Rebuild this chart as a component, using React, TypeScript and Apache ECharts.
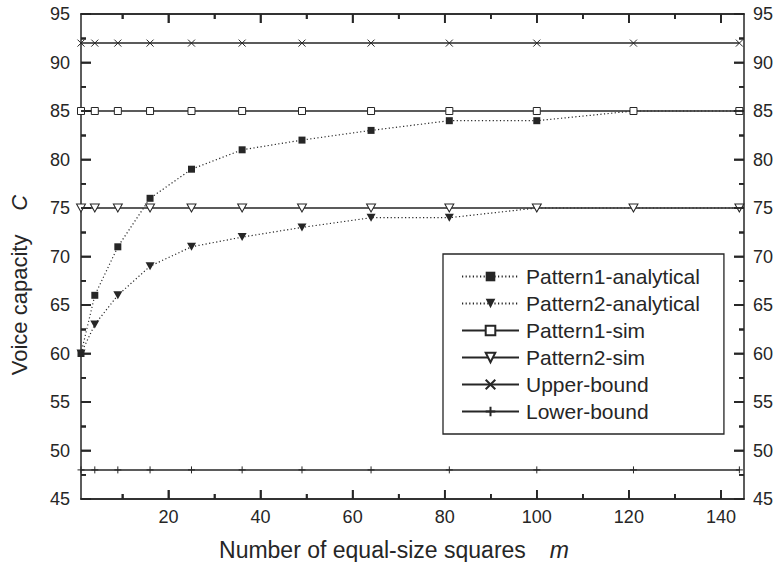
import React, { useEffect, useRef } from "react";
import * as echarts from "echarts";

// Number of equal-size squares m (perfect squares)
const squares = [1, 4, 9, 16, 25, 36, 49, 64, 81, 100, 121, 144];

// Voice capacity C for each configuration
const pattern1Analytical = [60, 66, 71, 76, 79, 81, 82, 83, 84, 84, 85, 85];
const pattern2Analytical = [60, 63, 66, 69, 71, 72, 73, 74, 74, 75, 75, 75];
const pattern1Sim = [85, 85, 85, 85, 85, 85, 85, 85, 85, 85, 85, 85];
const pattern2Sim = [75, 75, 75, 75, 75, 75, 75, 75, 75, 75, 75, 75];
const upperBound = [92, 92, 92, 92, 92, 92, 92, 92, 92, 92, 92, 92];
const lowerBound = [48, 48, 48, 48, 48, 48, 48, 48, 48, 48, 48, 48];

// Axis ranges and tick values
const X_MIN = 1;
const X_MAX = 145;
const Y_MIN = 45;
const Y_MAX = 95;
const xMajorTicks = [20, 40, 60, 80, 100, 120, 140];
const xMinorTicks = [10, 30, 50, 70, 90, 110, 130];
const yMajorTicks = [45, 50, 55, 60, 65, 70, 75, 80, 85, 90, 95];
const yMinorTicks = [47.5, 52.5, 57.5, 62.5, 67.5, 72.5, 77.5, 82.5, 87.5, 92.5];

const INK = "#262626";
const FONT = "'Liberation Sans', Arial, Helvetica, sans-serif";
const TICK_STYLE = { stroke: INK, lineWidth: 1.5 };

const pair = (ys: number[]) => squares.map((x, i) => [x, ys[i]]);

// Inward-pointing tick marks on both opposite frame sides, placed through the axis scales.
const xTickSeries = (values: number[], len: number) => ({
  type: "custom",
  silent: true,
  clip: false,
  z: 5,
  data: values.map((v) => [v, Y_MIN]),
  renderItem: (_params: any, api: any) => {
    const v = api.value(0);
    const bottom = api.coord([v, Y_MIN]);
    const top = api.coord([v, Y_MAX]);
    return {
      type: "group",
      children: [
        { type: "line", shape: { x1: bottom[0], y1: bottom[1], x2: bottom[0], y2: bottom[1] - len }, style: TICK_STYLE },
        { type: "line", shape: { x1: top[0], y1: top[1], x2: top[0], y2: top[1] + len }, style: TICK_STYLE },
      ],
    };
  },
});

const yTickSeries = (values: number[], len: number) => ({
  type: "custom",
  silent: true,
  clip: false,
  z: 5,
  data: values.map((v) => [X_MIN, v]),
  renderItem: (_params: any, api: any) => {
    const v = api.value(1);
    const left = api.coord([X_MIN, v]);
    const right = api.coord([X_MAX, v]);
    return {
      type: "group",
      children: [
        { type: "line", shape: { x1: left[0], y1: left[1], x2: left[0] + len, y2: left[1] }, style: TICK_STYLE },
        { type: "line", shape: { x1: right[0], y1: right[1], x2: right[0] - len, y2: right[1] }, style: TICK_STYLE },
      ],
    };
  },
});

const titleGraphics = [
  {
    id: "xTitle",
    type: "text",
    x: 394,
    y: 550,
    style: {
      text: "{a|Number of equal-size squares}{b|m}",
      align: "center",
      verticalAlign: "middle",
      fill: INK,
      rich: {
        a: { fontSize: 23, fontFamily: FONT, fill: INK, padding: [0, 24, 0, 0] },
        b: { fontSize: 23, fontFamily: FONT, fontStyle: "italic", fill: INK },
      },
    },
  },
  {
    id: "yTitle",
    type: "text",
    x: 19,
    y: 285,
    rotation: Math.PI / 2,
    style: {
      text: "{a|Voice capacity}{b|C}",
      align: "center",
      verticalAlign: "middle",
      fill: INK,
      rich: {
        a: { fontSize: 22, fontFamily: FONT, fill: INK, padding: [0, 24, 0, 0] },
        b: { fontSize: 22, fontFamily: FONT, fontStyle: "italic", fill: INK },
      },
    },
  },
];

export default function App() {
  const ref = useRef<HTMLDivElement>(null);

  useEffect(() => {
    if (!ref.current) return;
    const chart = echarts.init(ref.current, undefined, { renderer: "svg" });

    const axisLine = { show: true, onZero: false, lineStyle: { color: INK, width: 1.5 } };
    const tickLine = { color: INK, width: 1.5 };

    const xAxisAt = (position: "top" | "bottom", ticks: number[], len: number, labels: boolean) => ({
      type: "value",
      position,
      min: X_MIN,
      max: X_MAX,
      axisLine,
      axisTick: { show: true, inside: true, length: len, customValues: ticks, lineStyle: tickLine },
      axisLabel: labels
        ? { show: true, customValues: xMajorTicks, fontSize: 18, color: INK, fontFamily: FONT, margin: 9 }
        : { show: false },
      splitLine: { show: false },
    });

    const yAxisAt = (position: "left" | "right", margin: number) => ({
      type: "value",
      position,
      min: Y_MIN,
      max: Y_MAX,
      interval: 5,
      axisLine,
      axisTick: { show: true, inside: true, length: 10, lineStyle: tickLine },
      minorTick: { show: true, splitNumber: 2, length: 5, lineStyle: tickLine },
      axisLabel: { fontSize: 18, color: INK, fontFamily: FONT, margin },
      splitLine: { show: false },
    });

    const dotted = { color: INK, width: 1.2, type: [1.2, 2.4] };
    const solid = { color: INK, width: 1.5, type: "solid" };

    chart.setOption({
      animation: false,
      textStyle: { fontFamily: FONT },
      grid: { left: 81, right: 31, top: 14, bottom: 63 },
      xAxis: [
        xAxisAt("bottom", xMajorTicks, 9, true),
        xAxisAt("bottom", xMinorTicks, 5, false),
        xAxisAt("top", xMajorTicks, 9, false),
        xAxisAt("top", xMinorTicks, 5, false),
      ],
      yAxis: [yAxisAt("left", 11), yAxisAt("right", 9)],
      legend: {
        orient: "vertical",
        left: 443,
        top: 254,
        padding: [12, 24, 12, 18],
        itemWidth: 57,
        itemHeight: 12,
        itemGap: 6,
        borderColor: INK,
        borderWidth: 1.3,
        borderRadius: 0,
        textStyle: { fontSize: 21, color: INK, fontFamily: FONT, lineHeight: 21, padding: [0, 0, 0, 2] },
        data: [
          "Pattern1-analytical",
          "Pattern2-analytical",
          "Pattern1-sim",
          "Pattern2-sim",
          "Upper-bound",
          "Lower-bound",
        ],
      },
      graphic: titleGraphics,
      series: [
        {
          name: "Pattern1-analytical",
          type: "line",
          clip: false,
          data: pair(pattern1Analytical),
          symbol: "rect",
          symbolSize: 7,
          itemStyle: { color: INK, borderColor: INK, borderWidth: 0 },
          lineStyle: dotted,
        },
        {
          name: "Pattern2-analytical",
          type: "line",
          clip: false,
          data: pair(pattern2Analytical),
          symbol: "triangle",
          symbolRotate: 180,
          symbolSize: [9, 8],
          itemStyle: { color: INK, borderColor: INK, borderWidth: 0 },
          lineStyle: dotted,
        },
        {
          name: "Pattern1-sim",
          type: "line",
          clip: false,
          data: pair(pattern1Sim),
          symbol: "rect",
          symbolSize: 7,
          itemStyle: { color: "#fff", borderColor: INK, borderWidth: 1 },
          lineStyle: solid,
        },
        {
          name: "Pattern2-sim",
          type: "line",
          clip: false,
          data: pair(pattern2Sim),
          symbol: "triangle",
          symbolRotate: 180,
          symbolSize: [9, 8],
          itemStyle: { color: "#fff", borderColor: INK, borderWidth: 1 },
          lineStyle: solid,
        },
        {
          name: "Upper-bound",
          type: "line",
          clip: false,
          data: pair(upperBound),
          symbol: "path://M0,0L10,10M10,0L0,10",
          symbolSize: 7,
          itemStyle: { color: INK, borderColor: INK, borderWidth: 1 },
          lineStyle: solid,
        },
        {
          name: "Lower-bound",
          type: "line",
          clip: false,
          data: pair(lowerBound),
          symbol: "path://M5,0L5,10M0,5L10,5",
          symbolSize: 7,
          itemStyle: { color: INK, borderColor: INK, borderWidth: 1 },
          lineStyle: solid,
        },
        xTickSeries(xMajorTicks, 9),
        xTickSeries(xMinorTicks, 5),
        yTickSeries(yMajorTicks, 10),
        yTickSeries(yMinorTicks, 5),
      ],
    });

    // Frame ticks as graphic lines, positioned with the grid's own value-to-pixel conversion.
    const toPx = (v: [number, number]) => chart.convertToPixel({ gridIndex: 0 }, v) as number[];
    const tickLines: any[] = [];
    const addX = (values: number[], len: number) =>
      values.forEach((v) => {
        const b = toPx([v, Y_MIN]);
        const t = toPx([v, Y_MAX]);
        if (!b || !t) return;
        tickLines.push({ type: "line", silent: true, z: 50, shape: { x1: b[0], y1: b[1], x2: b[0], y2: b[1] - len }, style: TICK_STYLE });
        tickLines.push({ type: "line", silent: true, z: 50, shape: { x1: t[0], y1: t[1], x2: t[0], y2: t[1] + len }, style: TICK_STYLE });
      });
    const addY = (values: number[], len: number) =>
      values.forEach((v) => {
        const l = toPx([X_MIN, v]);
        const r = toPx([X_MAX, v]);
        if (!l || !r) return;
        tickLines.push({ type: "line", silent: true, z: 50, shape: { x1: l[0], y1: l[1], x2: l[0] + len, y2: l[1] }, style: TICK_STYLE });
        tickLines.push({ type: "line", silent: true, z: 50, shape: { x1: r[0], y1: r[1], x2: r[0] - len, y2: r[1] }, style: TICK_STYLE });
      });
    addX(xMajorTicks, 9);
    addX(xMinorTicks, 5);
    addY(yMajorTicks, 10);
    addY(yMinorTicks, 5);
    chart.setOption({ graphic: [...titleGraphics, ...tickLines] });

    return () => chart.dispose();
  }, []);

  return <div ref={ref} style={{ position: "absolute", left: 0, top: 0, width: 776, height: 562 }} />;
}
